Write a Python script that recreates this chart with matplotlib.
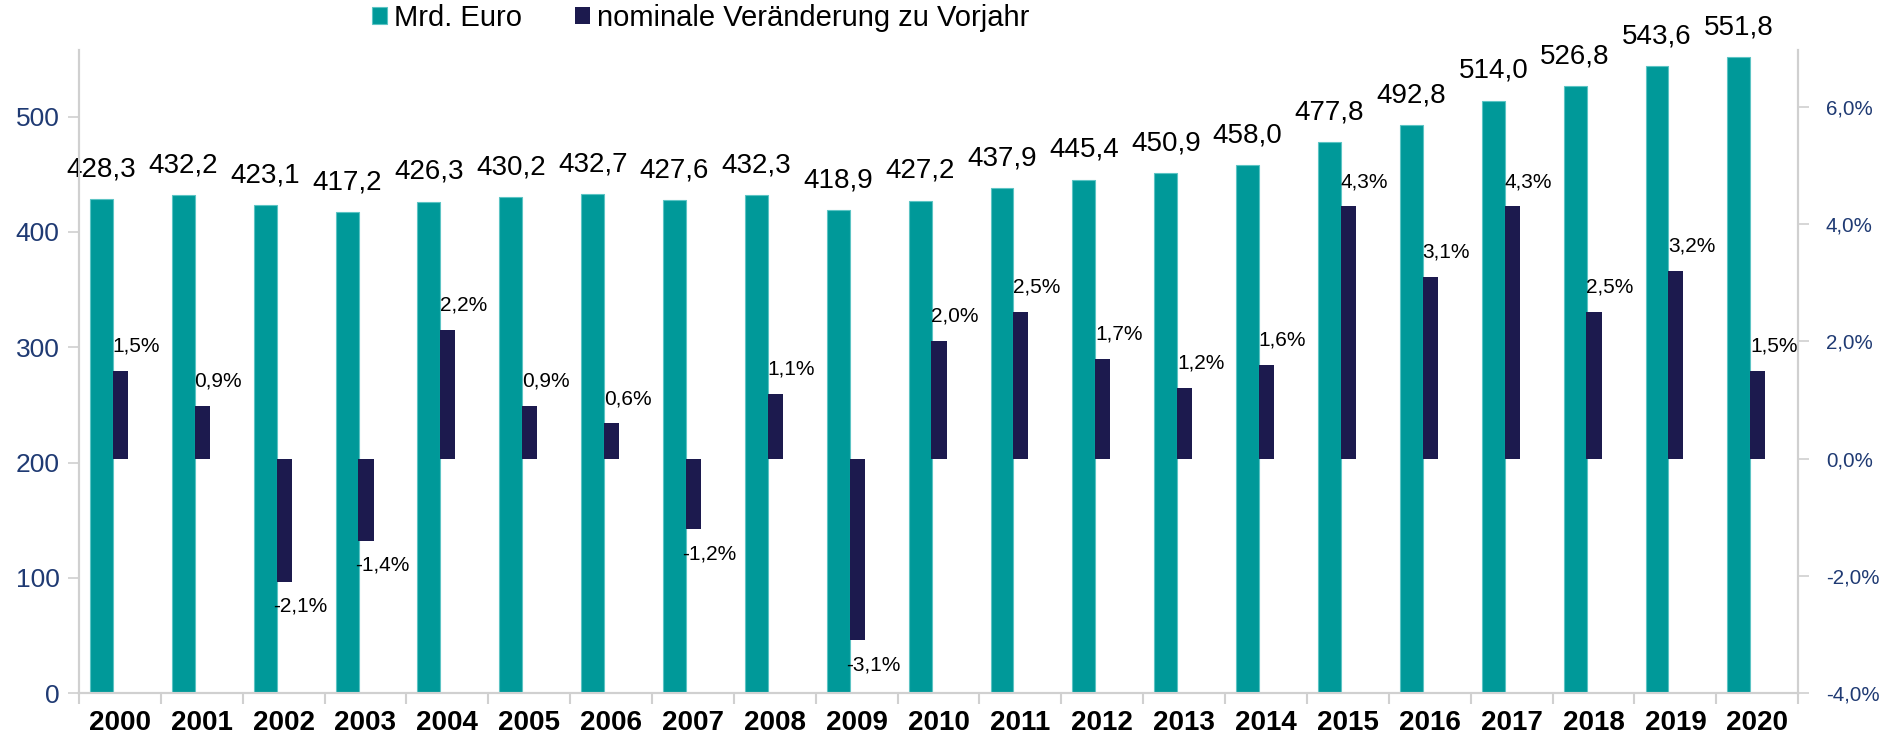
import matplotlib
matplotlib.use("Agg")
import matplotlib.pyplot as plt
import numpy as np

plt.rcParams['font.family'] = ['Liberation Sans', 'DejaVu Sans']

# Daten
jahre = [str(j) for j in range(2000, 2021)]
mrd_euro = [428.3, 432.2, 423.1, 417.2, 426.3, 430.2, 432.7, 427.6, 432.3, 418.9,
            427.2, 437.9, 445.4, 450.9, 458.0, 477.8, 492.8, 514.0, 526.8, 543.6, 551.8]
veraenderung = [1.5, 0.9, -2.1, -1.4, 2.2, 0.9, 0.6, -1.2, 1.1, -3.1,
                2.0, 2.5, 1.7, 1.2, 1.6, 4.3, 3.1, 4.3, 2.5, 3.2, 1.5]

teal = '#009999'
navy = '#1C1A4E'
achse_blau = '#1F3A73'
grau = '#D0D0D0'

def de(v, nk=1):
    return f"{v:.{nk}f}".replace('.', ',')

fig = plt.figure(figsize=(18.79, 7.44), dpi=100)
ax = fig.add_axes([0.042, 0.0685, 0.915, 0.8645])
ax2 = ax.twinx()

x = np.arange(len(jahre))

# Balken Mrd. Euro (linke Achse)
b1 = ax.bar(x - 0.225, mrd_euro, width=0.28, color=teal, edgecolor='#5CC4C4', linewidth=0.8,
            label='Mrd. Euro')
for xi, v in zip(x, mrd_euro):
    ax.annotate(de(v), (xi - 0.225, v), xytext=(0, 12), textcoords='offset points',
                ha='center', va='bottom', fontsize=20, color='black')

# Balken Veränderung (rechte Achse)
b2 = ax2.bar(x + 0.006, veraenderung, width=0.185, color=navy,
             label='nominale Veränderung zu Vorjahr')
for xi, v in zip(x, veraenderung):
    if v >= 0:
        ax2.annotate(de(v) + '%', (xi + 0.006, v), xytext=(11.5, 11), textcoords='offset points',
                     ha='center', va='bottom', fontsize=15, color='black')
    else:
        ax2.annotate(de(v) + '%', (xi + 0.006, v), xytext=(11.5, -11), textcoords='offset points',
                     ha='center', va='top', fontsize=15, color='black')

ax.set_xlim(-0.5, len(jahre) - 0.5)
ax.set_ylim(0, 558)
ax2.set_ylim(-4, 6.97)

ax.set_yticks([0, 100, 200, 300, 400, 500])
ax.set_yticklabels(['0', '100', '200', '300', '400', '500'], fontsize=19, color=achse_blau)
ax2.set_yticks([-4, -2, 0, 2, 4, 6])
ax2.set_yticklabels([de(t) + '%' for t in [-4, -2, 0, 2, 4, 6]], fontsize=14.8, color=achse_blau)

ax.set_xticks(x)
ax.set_xticklabels(jahre, fontsize=20, fontweight='bold')
ax.set_xticks(np.arange(-0.5, len(jahre)), minor=True)
ax.tick_params(axis='x', which='major', length=0, pad=12)
ax.tick_params(axis='x', which='minor', length=8, color=grau, width=1.5, direction='out')
ax.tick_params(axis='y', length=8, color=grau, width=1.2, pad=6)
ax2.tick_params(axis='y', length=8, color=grau, width=1.2, pad=12)

for a in (ax, ax2):
    a.spines['top'].set_visible(False)
    for s in ('left', 'right', 'bottom'):
        a.spines[s].set_color(grau)
        a.spines[s].set_linewidth(1.5)

fig.legend([b1, b2], ['Mrd. Euro', 'nominale Veränderung zu Vorjahr'],
           loc='upper left', bbox_to_anchor=(0.198, 0.995), ncol=2, frameon=False,
           fontsize=21, borderpad=0, borderaxespad=0,
           handlelength=0.52, handleheight=0.52, handletextpad=0.24,
           columnspacing=1.8)

fig.savefig('out.png', dpi=100)
